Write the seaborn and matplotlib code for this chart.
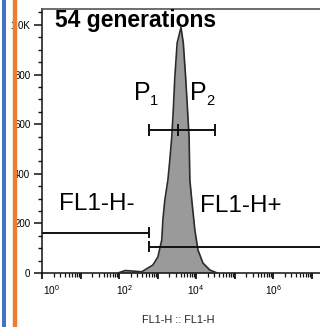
import numpy as np
import pandas as pd
import matplotlib
matplotlib.use("Agg")
import matplotlib.pyplot as plt
import matplotlib.transforms as mtransforms
from matplotlib.lines import Line2D
from matplotlib.ticker import LogLocator, NullFormatter, MultipleLocator, FixedLocator
import seaborn as sns

# ---- data ----
log_fl1 = [1.97, 2.16, 2.42, 2.59, 2.75, 2.88, 3.01, 3.11, 3.14, 3.19, 3.27, 3.32,
           3.37, 3.41, 3.45, 3.51, 3.61, 3.67, 3.73, 3.78, 3.82, 3.84, 3.89, 3.97,
           4.05, 4.18, 4.36, 4.55]
counts = [0, 10, 7, 5, 20, 32, 65, 133, 214, 294, 375, 456,
          548, 657, 790, 927, 990, 927, 790, 657, 548, 375, 294, 173,
          93, 40, 12, 0]

gate_p_lo, gate_p_mid, gate_p_hi, gate_p_y = 10**2.78, 10**3.52, 10**4.49, 577
gate_neg_lo, gate_neg_hi, gate_neg_y = 10**0, 10**2.78, 163
gate_pos_lo, gate_pos_hi, gate_pos_y = 10**2.78, 10**7.3, 106

ytick_vals = [0, 200, 400, 600, 800, 1000]
ytick_labels = ["0", "200", "400", "600", "800", "1.0K"]
xtick_vals = [1e0, 1e2, 1e4, 1e6]
xtick_labels = [r"$10^{0}$", r"$10^{2}$", r"$10^{4}$", r"$10^{6}$"]

df = pd.DataFrame({"FL1-H": 10 ** np.array(log_fl1), "count": counts})

# ---- style ----
sns.set_style("ticks")
plt.rcParams["font.family"] = ["Liberation Sans", "DejaVu Sans"]
plt.rcParams["mathtext.fontset"] = "custom"
plt.rcParams["mathtext.rm"] = "Liberation Sans"
plt.rcParams["mathtext.it"] = "Liberation Sans"
for k in ["text.color", "xtick.color", "ytick.color", "axes.labelcolor", "xtick.labelcolor", "ytick.labelcolor"]:
    plt.rcParams[k] = "black"

fig = plt.figure(figsize=(3.2, 3.27), dpi=100)
ax = fig.add_axes([42 / 320, 54 / 327, 278 / 320, 264 / 327])

ax.fill_between(df["FL1-H"], 0, df["count"], color="#9a9a9a", lw=0, zorder=2)
sns.lineplot(data=df, x="FL1-H", y="count", ax=ax, color="#2b2b2b", lw=1.2,
             sort=False, zorder=3)

ax.set_xscale("log")
ax.set_xlim(1, 10 ** 7.22)
ax.set_ylim(0, 1064)

# gates
lc = "#111111"
ax.hlines(gate_p_y, gate_p_lo, gate_p_hi, color=lc, lw=1.4, zorder=4)
ax.vlines([gate_p_lo, gate_p_mid, gate_p_hi], gate_p_y - 24, gate_p_y + 24, color=lc, lw=1.4, zorder=4)
ax.hlines(gate_neg_y, gate_neg_lo, gate_neg_hi, color=lc, lw=1.4, zorder=4)
ax.vlines(gate_neg_hi, gate_neg_y - 22, gate_neg_y + 22, color=lc, lw=1.4, zorder=4)
ax.hlines(gate_pos_y, gate_pos_lo, gate_pos_hi, color=lc, lw=1.4, zorder=4)
ax.vlines(gate_pos_lo, gate_pos_y - 22, gate_pos_y + 22, color=lc, lw=1.4, zorder=4)

# ticks
ax.yaxis.set_major_locator(FixedLocator(ytick_vals))
ax.set_yticklabels(ytick_labels)
ax.yaxis.set_minor_locator(MultipleLocator(50))
ax.xaxis.set_major_locator(FixedLocator([10.0 ** k for k in range(0, 8)]))
ax.set_xticklabels([xtick_labels[k // 2] if k % 2 == 0 and k // 2 < len(xtick_labels) else ""
                    for k in range(0, 8)])
ax.xaxis.set_minor_locator(LogLocator(base=10, subs=np.arange(2, 10), numticks=20))
ax.xaxis.set_minor_formatter(NullFormatter())
ax.tick_params(axis="y", which="major", length=5.8, width=1.1, labelsize=7, pad=2.6, color="#111111")
ax.tick_params(axis="y", which="minor", length=3, width=1.0, color="#111111")
ax.tick_params(axis="x", which="major", length=4.5, width=1.3, labelsize=7.3, pad=3, color="#111111")
ax.tick_params(axis="x", which="minor", length=2.6, width=0.9, color="#111111")

offsets_px = [10, 6, 5, 9, 0, 0, 0, 0]
for lab, off in zip(ax.get_xticklabels(), offsets_px):
    lab.set_transform(lab.get_transform() + mtransforms.ScaledTranslation(off / 100, 0, fig.dpi_scale_trans))

ax.spines["right"].set_visible(False)
ax.spines["left"].set_color("#111111")
ax.spines["bottom"].set_color("#111111")
ax.spines["top"].set_color("#555555")
ax.spines["left"].set_linewidth(1.1)
ax.spines["bottom"].set_linewidth(1.1)
ax.spines["top"].set_linewidth(1.2)
ax.set_xlabel("")
ax.set_ylabel("")

# texts (pixel-located via figure fractions)
def fx(px):
    return px / 320
def fy(py):
    return 1 - py / 327

fig.text(fx(55), fy(27), "54 generations", fontsize=16.5, fontweight="bold", va="baseline", ha="left", color="black")
fig.text(fx(133.5), fy(100), "P", fontsize=18, va="baseline", ha="left", color="black")
fig.text(fx(149.5), fy(105), "1", fontsize=10.5, va="baseline", ha="left", color="black")
fig.text(fx(190), fy(100), "P", fontsize=18, va="baseline", ha="left", color="black")
fig.text(fx(206.5), fy(105), "2", fontsize=10.5, va="baseline", ha="left", color="black")
fig.text(fx(59), fy(210), "FL1-H-", fontsize=17.5, va="baseline", ha="left", color="black")
fig.text(fx(200.5), fy(211.5), "FL1-H+", fontsize=17.5, va="baseline", ha="left", color="black")
fig.text(fx(178.5), fy(323), "FL1-H :: FL1-H", fontsize=7.8, va="baseline", ha="center", color="#222222")

# decorative vertical bars at the left edge
fig.add_artist(Line2D([fx(3.7), fx(3.7)], [0, 1], transform=fig.transFigure, color="#4472C4", lw=2.9, zorder=10))
fig.add_artist(Line2D([fx(15), fx(15)], [0, 1], transform=fig.transFigure, color="#ED7D31", lw=3.2, zorder=10))

fig.savefig("out.png", dpi=100)
